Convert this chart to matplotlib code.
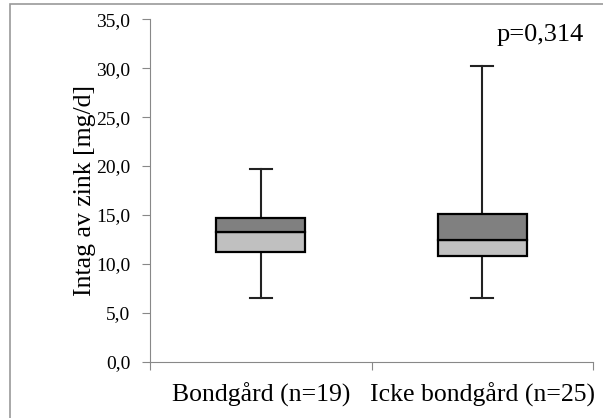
import matplotlib.pyplot as plt
import matplotlib.patches as mpatches

# data
groups = ["Bondgård (n=19)", "Icke bondgård (n=25)"]
minimum = [6.55, 6.55]
q1 = [11.25, 10.8]
median = [13.3, 12.45]
q3 = [14.7, 15.1]
maximum = [19.7, 30.25]
yticks = [0, 5, 10, 15, 20, 25, 30, 35]

plt.rcParams['font.family'] = ['Liberation Serif', 'DejaVu Serif']

fig = plt.figure(figsize=(6.03, 4.18), dpi=100)
ax = fig.add_axes([150 / 603, 1 - 361.7 / 418, 443 / 603, 342.4 / 418])

# frame around the whole chart area
fig.patches.append(mpatches.Rectangle((10 / 603, -0.1), 1.2, 1 - 4 / 418 + 0.1,
                                      transform=fig.transFigure, fill=False,
                                      edgecolor="#9a9a9a", linewidth=1.2))

x = [1, 2]
lower = [m - a for m, a in zip(median, q1)]
upper = [b - m for b, m in zip(q3, median)]

# whiskers first so the boxes cover them
for xi, lo, hi, a, b in zip(x, minimum, maximum, q1, q3):
    ax.plot([xi, xi], [lo, a], color="#222222", linewidth=1.5, zorder=1)
    ax.plot([xi, xi], [b, hi], color="#222222", linewidth=1.5, zorder=1)
    ax.plot([xi - 0.05, xi + 0.05], [lo, lo], color="#222222", linewidth=1.5, zorder=1)
    ax.plot([xi - 0.05, xi + 0.05], [hi, hi], color="#222222", linewidth=1.5, zorder=1)

ax.bar(x, lower, bottom=q1, width=0.4, color="#c0c0c0", edgecolor="black",
       linewidth=1.6, zorder=2)
ax.bar(x, upper, bottom=median, width=0.4, color="#808080", edgecolor="black",
       linewidth=1.6, zorder=2)

ax.set_xlim(0.5, 2.5)
ax.set_ylim(0, 35)
ax.set_yticks(yticks)
ax.set_yticklabels([f"{v:.1f}".replace(".", ",") for v in yticks], fontsize=14)
ax.set_xticks([0.5, 1.5, 2.5])
ax.set_xticklabels([])
ax.set_xticks(x, minor=True)
ax.set_xticklabels(groups, minor=True, fontsize=18.5)
ax.tick_params(axis="x", which="minor", length=0, pad=15)
ax.tick_params(axis="x", which="major", length=6, color="#888888")
ax.tick_params(axis="y", length=6, color="#888888", pad=8)

for side in ["top", "right"]:
    ax.spines[side].set_visible(False)
for side in ["left", "bottom"]:
    ax.spines[side].set_color("#888888")

ax.set_ylabel("Intag av zink [mg/d]", fontsize=18.5, labelpad=0)
ax.text(0.98, 0.985, "p=0,314", transform=ax.transAxes, ha="right", va="top",
        fontsize=19)

fig.savefig("out.png", dpi=100)
